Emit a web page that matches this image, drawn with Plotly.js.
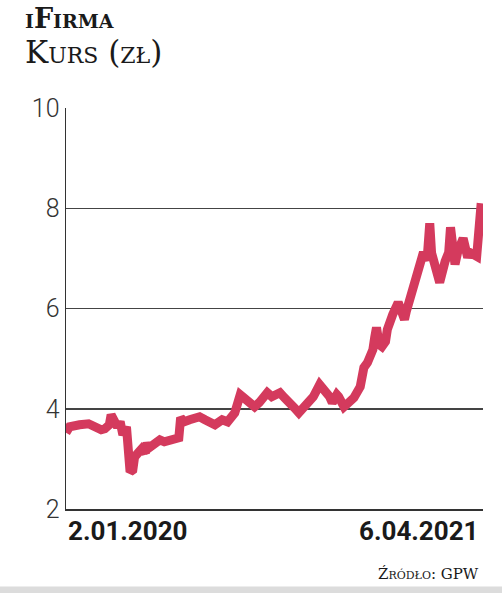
<!DOCTYPE html>
<html>
<head>
<meta charset="utf-8">
<script src="https://cdn.plot.ly/plotly-3.0.1.min.js"></script>
<style>html,body{margin:0;padding:0;background:#fff;}#chart{width:502px;height:593px;}</style>
</head>
<body>
<div id="chart"></div>
<script>
// Session dates
const dates = [
 '2020-01-02','2020-01-06','2020-01-17','2020-01-27','2020-02-03','2020-02-10','2020-02-14','2020-02-19',
 '2020-02-21','2020-02-25','2020-02-28','2020-03-02','2020-03-05','2020-03-09','2020-03-11','2020-03-13',
 '2020-03-16','2020-03-18','2020-03-23','2020-03-26','2020-03-30','2020-04-01','2020-04-03','2020-04-09',
 '2020-04-15','2020-04-20','2020-04-27','2020-05-04','2020-05-06','2020-05-08','2020-05-12','2020-05-18',
 '2020-05-29','2020-06-04','2020-06-09','2020-06-15','2020-06-23','2020-06-29','2020-07-07','2020-07-13',
 '2020-07-17','2020-07-23','2020-07-29','2020-08-03','2020-08-10','2020-08-12','2020-08-17','2020-08-20',
 '2020-08-26','2020-08-31','2020-09-04','2020-09-11','2020-09-16','2020-09-22','2020-09-28','2020-10-02',
 '2020-10-09','2020-10-14','2020-10-20','2020-10-23','2020-10-28','2020-10-30','2020-11-05','2020-11-10',
 '2020-11-16','2020-11-23','2020-11-25','2020-11-27','2020-12-01','2020-12-03','2020-12-07','2020-12-09',
 '2020-12-11','2020-12-14','2020-12-17','2020-12-21','2020-12-23','2020-12-29','2021-01-04','2021-01-07',
 '2021-01-11','2021-01-13','2021-01-18','2021-01-21','2021-01-25','2021-01-28','2021-02-01','2021-02-05',
 '2021-02-08','2021-02-10','2021-02-15','2021-02-19','2021-02-25','2021-03-01','2021-03-03','2021-03-08',
 '2021-03-11','2021-03-17','2021-03-22','2021-03-24','2021-03-30','2021-04-01','2021-04-06'
];
// Closing price, zł (estimated)
const kurs = [
 3.52,3.64,3.68,3.70,3.64,3.58,3.60,3.68,
 3.88,3.72,3.64,3.74,3.48,3.64,3.22,2.74,
 2.78,3.04,3.14,3.20,3.12,3.32,3.22,3.28,
 3.38,3.34,3.38,3.38,3.42,3.82,3.74,3.78,
 3.84,3.78,3.74,3.68,3.78,3.74,3.92,4.28,
 4.22,4.12,4.04,4.12,4.24,4.32,4.24,4.28,
 4.32,4.22,4.12,4.02,3.92,4.02,4.18,4.24,
 4.48,4.38,4.24,4.12,4.28,4.24,4.04,4.12,
 4.22,4.44,4.78,4.82,4.92,5.02,5.18,5.42,
 5.62,5.28,5.24,5.34,5.58,5.88,6.12,5.98,
 5.78,5.94,6.24,6.44,6.64,6.85,7.12,6.96,
 7.70,7.11,6.76,6.52,6.94,7.12,7.62,6.88,
 7.13,7.40,7.02,7.12,7.06,7.04,8.10
];
const yTicks = [2, 4, 6, 8, 10];
const xLabels = ['2.01.2020', '6.04.2021'];
const titleLine1 = 'iFirma';
const titleLine2 = 'Kurs (zł)';
const sourceText = 'Źródło: GPW';

const serif = 'DejaVu Serif, serif';
const sans = 'Roboto, Inter, sans-serif';
const trace = {
  x: dates, y: kurs, type: 'scatter', mode: 'lines',
  line: {color: '#d43a5d', width: 9, shape: 'linear'},
  hoverinfo: 'skip'
};
const layout = {
  width: 502, height: 593,
  margin: {l: 66, r: 19, t: 108, b: 84},
  paper_bgcolor: '#fff', plot_bgcolor: '#fff',
  showlegend: false,
  xaxis: {
    range: ['2020-01-02', '2021-04-08'],
    showgrid: false, zeroline: false, showticklabels: false, ticks: '',
    showline: true, linecolor: '#333', linewidth: 1.5
  },
  yaxis: {
    range: [2, 10], tickvals: yTicks, ticktext: yTicks.map(String),
    showgrid: true, gridcolor: '#444', gridwidth: 1.5, zeroline: false,
    showline: true, linecolor: '#333', linewidth: 1.5,
    ticks: '', ticklen: 0,
    tickfont: {family: sans, size: 25, color: '#333', weight: 300}
  },
  annotations: [
    {xref: 'paper', yref: 'paper', x: -0.103, y: 1.267, xanchor: 'left', yanchor: 'top',
     text: '<b>' + titleLine1 + '</b>', showarrow: false,
     font: {family: serif, size: 27, color: '#1a1a1a', variant: 'small-caps'}},
    {xref: 'paper', yref: 'paper', x: -0.103, y: 1.19, xanchor: 'left', yanchor: 'top',
     text: titleLine2, showarrow: false,
     font: {family: serif, size: 31, color: '#1a1a1a', variant: 'small-caps'}},
    {xref: 'x', yref: 'paper', x: dates[0], y: -0.012, xanchor: 'left', yanchor: 'top',
     text: '<b>' + xLabels[0] + '</b>', showarrow: false,
     font: {family: sans, size: 26, color: '#1a1a1a'}},
    {xref: 'x', yref: 'paper', x: dates[dates.length - 1], y: -0.012, xanchor: 'right', yanchor: 'top',
     text: '<b>' + xLabels[1] + '</b>', showarrow: false,
     font: {family: sans, size: 26, color: '#1a1a1a'}},
    {xref: 'paper', yref: 'paper', x: 0.995, y: -0.135, xanchor: 'right', yanchor: 'top',
     text: sourceText, showarrow: false,
     font: {family: serif, size: 15, color: '#1a1a1a', variant: 'small-caps'}}
  ],
  shapes: [
    {type: 'rect', xref: 'paper', yref: 'paper', x0: -0.17, x1: 1.06, y0: -0.2095, y1: -0.193,
     fillcolor: '#dcdcdc', line: {width: 0}, layer: 'below'}
  ]
};
Plotly.newPlot('chart', [trace], layout, {staticPlot: true, displayModeBar: false});
</script>
</body>
</html>
